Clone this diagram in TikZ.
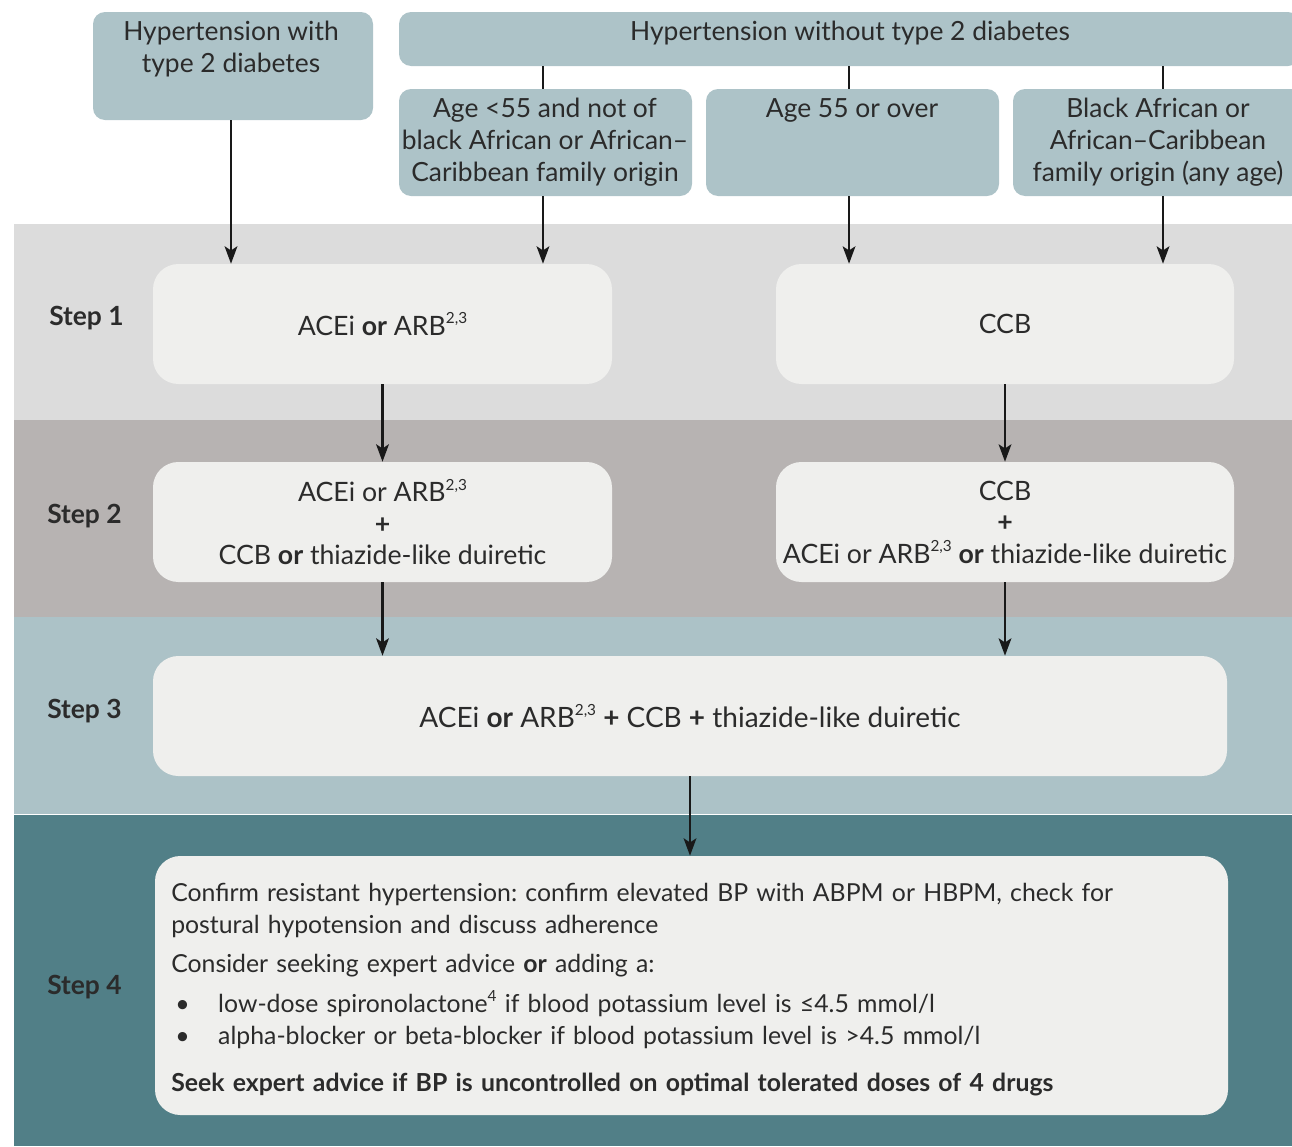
\documentclass[tikz,border=0pt]{standalone}
\usepackage{fontspec}
\setmainfont{Lato}
\usetikzlibrary{arrows.meta}
\definecolor{topbox}{HTML}{ADC3C8}
\definecolor{bandA}{HTML}{DCDCDC}
\definecolor{bandB}{HTML}{B7B3B2}
\definecolor{bandC}{HTML}{ACC2C7}
\definecolor{bandD}{HTML}{517F87}
\definecolor{inbox}{HTML}{EFEFED}
\definecolor{ink}{HTML}{2B2B2B}
\newcommand\supx[1]{\raisebox{0.42em}{\fontsize{11.5}{11.5}\selectfont #1}}
\frenchspacing
\begin{document}
\begin{tikzpicture}[x=0.75pt,y=-0.75pt,
  every node/.style={text=ink, font=\fontsize{19.8}{24}\selectfont},
  catbox/.style={fill=topbox, rounded corners=9pt, inner sep=0pt},
  drugbox/.style={fill=inbox, rounded corners=19pt, inner sep=0pt, align=center, font=\fontsize{20}{23.6}\selectfont},
  txt/.style={inner sep=0pt, align=center, anchor=base},
  steplabel/.style={inner sep=0pt, anchor=base west, font=\fontsize{19.8}{24}\selectfont\bfseries},
  conn/.style={line width=1.8pt, draw=black!90},
  arr/.style={conn, -{Stealth[length=13pt,width=9.5pt,inset=3pt]}}]
\useasboundingbox (0,0) rectangle (1292,1146);
\clip (0,0) rectangle (1292,1146);
% bands
\fill[bandA] (14,224) rectangle (1292,420);
\fill[bandB] (14,420) rectangle (1292,617);
\fill[bandC] (14,617) rectangle (1292,814);
\fill[bandD] (14,815) rectangle (1292,1146);
% category boxes
\node[catbox, minimum width=210pt, minimum height=81pt] (A) at (233,66) {};
\node[txt] (At) at (231,72) {Hypertension with\\type 2 diabetes};
\node[catbox, minimum width=675.75pt, minimum height=40.5pt] (B) at (849.5,39) {};
\node[txt] (Bt) at (850,40) {Hypertension without type 2 diabetes};
\node[catbox, minimum width=219.75pt, minimum height=80.25pt] (C) at (545.5,142.5) {};
\node[txt] (Ct) at (545,181) {Age <55 and not of\\black African or African–\\Caribbean family origin};
\node[catbox, minimum width=219.75pt, minimum height=80.25pt] (D) at (852.5,142.5) {};
\node[txt] (Dt) at (852,117) {Age 55 or over};
\node[catbox, minimum width=217.5pt, minimum height=80.25pt] (E) at (1158,142.5) {};
\node[txt] (Et) at (1158,181) {Black African or\\African–Caribbean\\family origin (any age)};
% drug boxes
\node[drugbox, minimum width=344.25pt, minimum height=90pt] (S1L) at (382.5,324) {ACEi \textbf{or} ARB\supx{2,3}};
\node[drugbox, minimum width=343.5pt, minimum height=90pt] (S1R) at (1005,324) {CCB};
\node[drugbox, minimum width=344.25pt, minimum height=90pt] (S2L) at (382.5,522) {ACEi or ARB\supx{2,3}\\\textbf{+}\\CCB \textbf{or} thiazide-like duiretic};
\node[drugbox, minimum width=343.5pt, minimum height=90pt] (S2R) at (1005,522) {CCB\\\textbf{+}\\ACEi or ARB\supx{2,3} \textbf{or} thiazide-like duiretic};
\node[drugbox, minimum width=805.5pt, minimum height=90pt, font=\fontsize{21}{24}\selectfont] (S3) at (690,716) {ACEi \textbf{or} ARB\supx{2,3} \textbf{+} CCB \textbf{+} thiazide-like duiretic};
\node[drugbox, minimum width=804.75pt, minimum height=194.25pt] (S4) at (691.5,985.5) {};
\node[inner sep=0pt, anchor=base west, text width=795pt, align=left, font=\fontsize{18.6}{24}\selectfont] (S4t) at (171,901) {%
Confirm resistant hypertension: confirm elevated BP with ABPM or HBPM, check for\\
postural hypotension and discuss adherence\\[5.25pt]
Consider seeking expert advice \textbf{or} adding a:\\[6pt]
\makebox[35.25pt][l]{\hspace{3pt}•}low-dose spironolactone\supx{4} if blood potassium level is ≤4.5 mmol/l\\
\makebox[35.25pt][l]{\hspace{3pt}•}alpha-blocker or beta-blocker if blood potassium level is >4.5 mmol/l\\[11.25pt]
\textbf{Seek expert advice if BP is uncontrolled on optimal tolerated doses of 4 drugs}};
% step labels
\node[steplabel] (L1) at (49,325) {Step 1};
\node[steplabel] (L2) at (47,523) {Step 2};
\node[steplabel] (L3) at (47,718) {Step 3};
\node[steplabel] (L4) at (47,994) {Step 4};
% connectors
\draw[conn] ([xshift=-1.9pt]C.north) -- ([xshift=-1.9pt]C.north |- B.south);
\draw[conn] ([xshift=-2.6pt]D.north) -- ([xshift=-2.6pt]D.north |- B.south);
\draw[conn] ([xshift=3.75pt]E.north) -- ([xshift=3.75pt]E.north |- B.south);
\draw[arr] ([xshift=-1.5pt]A.south) -- ([xshift=-1.5pt]A.south |- S1L.north);
\draw[arr] ([xshift=-1.9pt]C.south) -- ([xshift=-1.9pt]C.south |- S1L.north);
\draw[arr] ([xshift=-2.6pt]D.south) -- ([xshift=-2.6pt]D.south |- S1R.north);
\draw[arr] ([xshift=3.75pt]E.south) -- ([xshift=3.75pt]E.south |- S1R.north);
\draw[arr] (S1L.south) -- (S2L.north);
\draw[arr] (S1R.south) -- (S2R.north);
\draw[arr] (S2L.south) -- (S2L.south |- S3.north);
\draw[arr] (S2R.south) -- (S2R.south |- S3.north);
\draw[arr] (S3.south) -- (S3.south |- S4.north);
\end{tikzpicture}
\end{document}
